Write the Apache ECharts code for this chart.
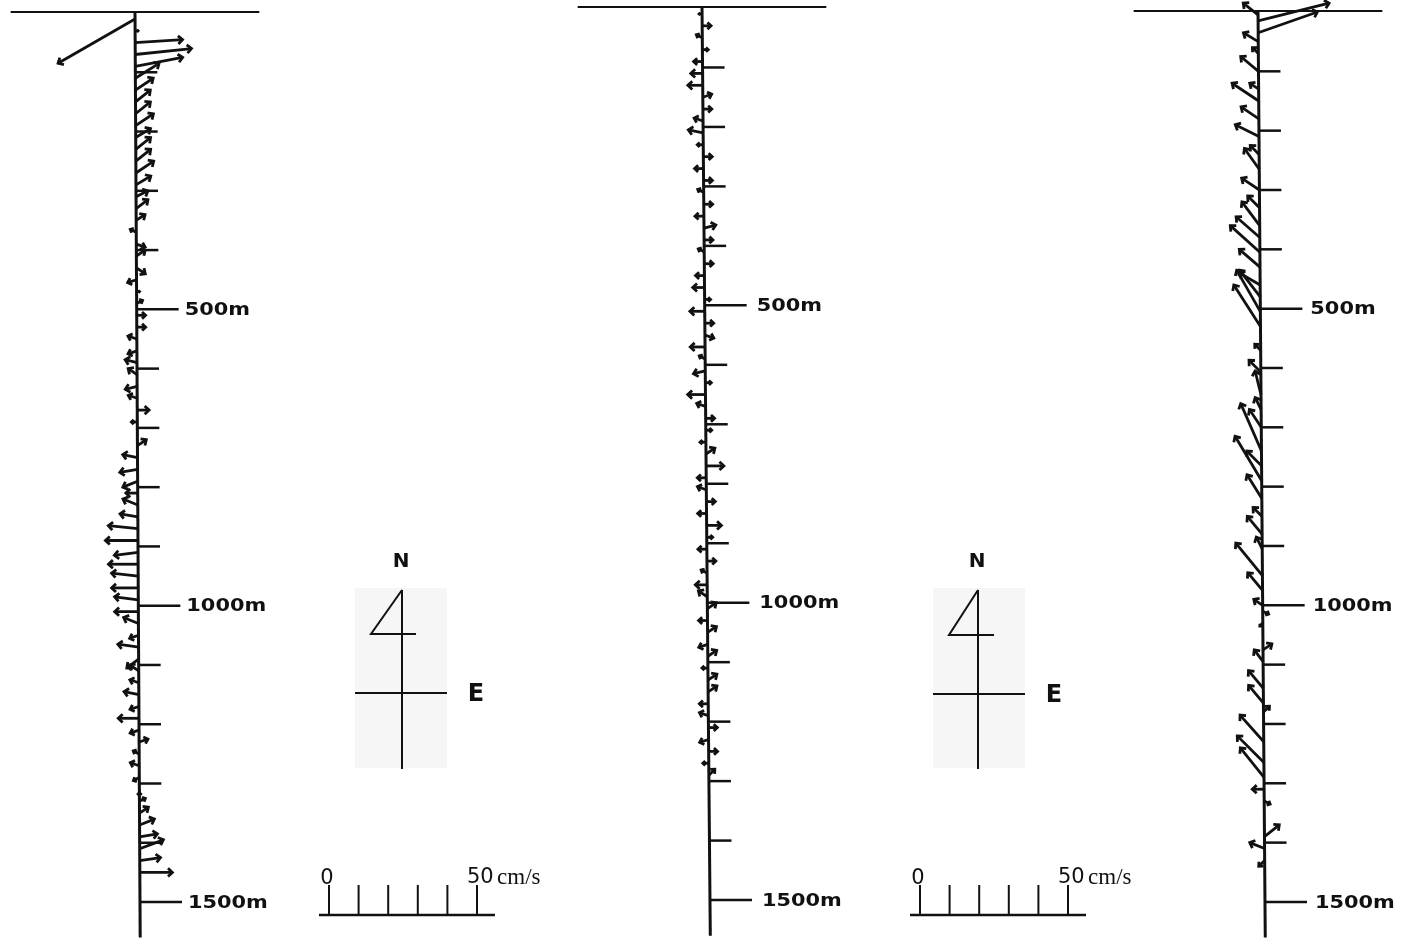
<!DOCTYPE html>
<html>
<head>
<meta charset="utf-8">
<script src="https://cdn.jsdelivr.net/npm/echarts@6/dist/echarts.min.js"></script>
<style>
  html, body { margin: 0; padding: 0; background: #fff; }
  #chart { width: 1405px; height: 945px; }
</style>
</head>
<body>
<div id="chart"></div>
<script>
// depth ticks (m) and labels
var tickDepths = [100, 200, 300, 400, 500, 600, 700, 800, 900, 1000, 1100, 1200, 1300, 1400, 1500];
var labelDepths = [500, 1000, 1500];
var depthLabels = ['500m', '1000m', '1500m'];
var scaleTicks = [0, 10, 20, 30, 40, 50];   // cm/s

// profile 1 : depth (m), east and north components (cm/s)
var p1Depth = [10, 30, 50, 70, 90, 110, 130, 150, 170, 190, 210, 230, 250, 270, 290, 310, 330, 350, 370, 390,
    410, 430, 450, 470, 490, 510, 530, 550, 570, 590, 610, 630, 650, 670, 690, 710, 730, 750, 770, 790,
    810, 830, 850, 870, 890, 910, 930, 950, 970, 990, 1010, 1030, 1050, 1070, 1090, 1110, 1130, 1150, 1170, 1190,
    1210, 1230, 1250, 1270, 1290, 1310, 1330, 1350, 1370, 1390, 1410, 1430, 1450];
var p1East = [-26, 1, 16, 19, 16, 8, 6, 5, 5, 6, 5, 5, 5, 6, 5, 4, 4, 3, -2, 3,
    3, 3, -3, 1, 2, 3, 3, -3, -3, -4, -3, -4, -3, 4, -2, 0, 3, -5, -6, -5,
    -4, -5, -6, -10, -11, -8, -10, -9, -9, -8, -8, -5, -3, -7, -4, -3, -3, -5, -3, -7,
    -3, 3, -2, -3, -2, 0, 2, 3, 5, 6, 8, 7, 11];
var p1North = [-15, 0, 1, 2, 3, 5, 4, 4, 4, 4, 3, 4, 4, 4, 3, 2, 3, 2, 1, -1,
    2, -2, -1, 0, 1, 0, 0, 1, -1, 1, 2, -1, 1, 0, 0, 0, 2, 1, -1, -2,
    0, 2, 1, 1, 0, -1, 0, 1, 0, 1, 0, 2, -1, 1, -3, 2, 1, 1, -1, 0,
    -1, 1, 1, 1, -1, -2, 1, 2, 2, 1, 3, 1, 0];

// profile 2
var p2Depth = [10, 30, 50, 70, 90, 110, 130, 150, 170, 190, 210, 230, 250, 270, 290, 310, 330, 350, 370, 390,
    410, 430, 450, 470, 490, 510, 530, 550, 570, 590, 610, 630, 650, 670, 690, 710, 730, 750, 770, 790,
    810, 830, 850, 870, 890, 910, 930, 950, 970, 990, 1010, 1030, 1050, 1070, 1090, 1110, 1130, 1150, 1170, 1190,
    1210, 1230, 1250, 1270, 1290];
var p2East = [-1, 3, -2, 2, -3, -4, -5, 3, 3, -3, -5, -2, 3, -3, 3, -2, 3, -3, 4, 3,
    -2, 3, -3, -4, 2, -5, 3, 3, -5, -2, -4, 2, -6, -3, 3, 2, -2, 3, 6, -3,
    -3, 3, -3, 5, 2, -3, 3, -2, -4, -3, 3, -3, 3, -3, 3, -2, 3, 3, -3, -3,
    3, -3, 3, -2, 2];
var p2North = [0, 0, 1, 0, 0, 0, 0, 1, 0, 1, 1, 0, 0, 0, 0, 1, 0, 0, 1, 0,
    1, 0, 0, 0, 0, 0, 0, -1, 0, 1, -1, 0, 0, 1, 0, 0, 0, 2, 0, 0,
    1, 0, 0, 0, 0, 0, 0, 1, 0, 2, 2, 0, 2, -1, 2, 0, 2, 2, 0, 1,
    0, -1, 0, 0, 2];

// profile 3
var p3Depth = [5, 15, 35, 50, 70, 100, 130, 150, 180, 210, 240, 265, 300, 330, 360, 380, 405, 430, 460, 480,
    505, 530, 570, 607, 645, 670, 700, 740, 765, 790, 820, 850, 880, 905, 950, 975, 1000, 1010, 1030, 1075,
    1095, 1140, 1165, 1180, 1230, 1265, 1290, 1310, 1330, 1390, 1410, 1430];
var p3East = [-5, 24, 20, -5, -2, -6, -3, -9, -6, -8, -3, -5, -6, -4, -6, -8, -10, -7, -7, -7,
    -8, -9, -2, -4, -2, -2, -4, -7, -5, -9, -5, -3, -5, -2, -9, -5, -3, 2, -1, 3,
    -3, -5, -5, 2, -8, -9, -8, -4, 2, 5, -5, -2];
var p3North = [4, 6, 7, 3, 2, 5, 2, 6, 4, 4, 3, 7, 4, 4, 8, 7, 9, 6, 4, 9,
    14, 14, 2, 4, 8, 4, 6, 16, 5, 15, 8, 3, 6, 4, 11, 6, 2, -1, -1, 2,
    4, 6, 6, 2, 9, 9, 10, 0, -1, 4, 2, -2];

var ink = '#111';
var pxPerCm = 2.96;     // 50 cm/s scale bar = 148 px
var maxDepth = 1560;
var halfSpan = 42;      // cm/s each side of the profile axis

var panels = [
    {axisX: 135, top: 13, pxPerM: 0.5927, tilt: 5, labelGap: 48, depth: p1Depth, east: p1East, north: p1North},
    {axisX: 702, top: 8, pxPerM: 0.5947, tilt: 8, labelGap: 52, depth: p2Depth, east: p2East, north: p2North},
    {axisX: 1258, top: 12, pxPerM: 0.5933, tilt: 7, labelGap: 50, depth: p3Depth, east: p3East, north: p3North}
];

function axisPoint(api, p, d) {
    var pt = api.coord([0, d]);
    pt[0] += p.tilt * d / 1500;
    return pt;
}

function frameItem(p) {
    return function (params, api) {
        var s0 = api.coord([-halfSpan, 0]);
        var s1 = api.coord([halfSpan, 0]);
        var a0 = axisPoint(api, p, 0);
        var a1 = axisPoint(api, p, maxDepth);
        return {
            type: 'group',
            children: [
                {type: 'line', shape: {x1: s0[0], y1: s0[1] - 1, x2: s1[0], y2: s1[1] - 1},
                    style: {stroke: ink, lineWidth: 2}},
                {type: 'line', shape: {x1: a0[0], y1: a0[1] - 2, x2: a1[0], y2: a1[1]},
                    style: {stroke: ink, lineWidth: 3}}
            ]
        };
    };
}

function tickItem(p) {
    return function (params, api) {
        var d = api.value(1);
        var pt = axisPoint(api, p, d);
        var idx = labelDepths.indexOf(d);
        var len = idx >= 0 ? 42 : 22;
        var children = [
            {type: 'line', shape: {x1: pt[0], y1: pt[1], x2: pt[0] + len, y2: pt[1]},
                style: {stroke: ink, lineWidth: 2.5}}
        ];
        if (idx >= 0) {
            children.push({
                type: 'text', x: pt[0] + p.labelGap, y: pt[1] + 1, scaleX: 1.16,
                style: {text: depthLabels[idx], fill: ink, fontSize: 18, fontWeight: 'bold',
                    fontFamily: 'DejaVu Sans', align: 'left', verticalAlign: 'middle'}
            });
        }
        return {type: 'group', children: children};
    };
}

function vectorItem(p) {
    return function (params, api) {
        var u = api.value(0), d = api.value(1), v = api.value(2);
        if (u === 0 && v === 0) return null;
        var base = axisPoint(api, p, d);
        var k = api.size([1, 0])[0];
        var dx = u * k, dy = -v * k;
        var tip = [base[0] + dx, base[1] + dy];
        var len = Math.sqrt(dx * dx + dy * dy);
        var ang = Math.atan2(dy, dx);
        var h = Math.min(6, len * 0.55);
        var a1 = ang + Math.PI - 0.75, a2 = ang + Math.PI + 0.75;
        var b1 = [tip[0] + h * Math.cos(a1), tip[1] + h * Math.sin(a1)];
        var b2 = [tip[0] + h * Math.cos(a2), tip[1] + h * Math.sin(a2)];
        return {
            type: 'group',
            children: [
                {type: 'line', shape: {x1: base[0], y1: base[1], x2: tip[0], y2: tip[1]},
                    style: {stroke: ink, lineWidth: 2.8}},
                {type: 'polyline', shape: {points: [b1, tip, b2]},
                    style: {stroke: ink, lineWidth: 2.8, fill: null}}
            ]
        };
    };
}

var grids = [], xAxes = [], yAxes = [], series = [];
panels.forEach(function (p, i) {
    grids.push({
        left: p.axisX - halfSpan * pxPerCm,
        top: p.top,
        width: 2 * halfSpan * pxPerCm,
        height: maxDepth * p.pxPerM
    });
    xAxes.push({type: 'value', gridIndex: i, min: -halfSpan, max: halfSpan, show: false});
    yAxes.push({type: 'value', gridIndex: i, min: 0, max: maxDepth, inverse: true, show: false});
    series.push({
        type: 'custom', xAxisIndex: i, yAxisIndex: i, silent: true,
        renderItem: frameItem(p), data: [[0, 0]]
    });
    series.push({
        type: 'custom', xAxisIndex: i, yAxisIndex: i, silent: true,
        renderItem: tickItem(p),
        data: tickDepths.map(function (d) { return [0, d]; })
    });
    series.push({
        type: 'custom', xAxisIndex: i, yAxisIndex: i, silent: true,
        renderItem: vectorItem(p),
        data: p.depth.map(function (d, j) { return [p.east[j], d, p.north[j]]; })
    });
});

// compass rose and velocity scale (drawn twice)
function compass(cx, tipY, crossY, barbX, barbY, boxX) {
    return [
        {type: 'rect', shape: {x: boxX, y: tipY - 2, width: 92, height: 180}, style: {fill: '#f6f6f6'}, z: -1},
        {type: 'line', shape: {x1: cx, y1: tipY, x2: cx, y2: tipY + 179}, style: {stroke: ink, lineWidth: 2}},
        {type: 'line', shape: {x1: boxX, y1: crossY, x2: boxX + 92, y2: crossY}, style: {stroke: ink, lineWidth: 2}},
        {type: 'polyline', shape: {points: [[cx, tipY], [barbX, barbY], [barbX + 45, barbY]]},
            style: {stroke: ink, lineWidth: 2, fill: null}},
        {type: 'text', x: cx - 1, y: tipY - 28, style: {text: 'N', fill: ink, fontSize: 20, fontWeight: 'bold',
            fontFamily: 'DejaVu Sans', align: 'center', verticalAlign: 'middle'}},
        {type: 'text', x: boxX + 121, y: crossY + 2, style: {text: 'E', fill: ink, fontSize: 24, fontWeight: 'bold',
            fontFamily: 'DejaVu Sans', align: 'center', verticalAlign: 'middle'}}
    ];
}

function scaleBar(x0, baseY) {
    var els = [
        {type: 'line', shape: {x1: x0 - 10, y1: baseY, x2: x0 + 50 * pxPerCm + 18, y2: baseY},
            style: {stroke: ink, lineWidth: 2.5}}
    ];
    scaleTicks.forEach(function (t) {
        var x = x0 + t * pxPerCm;
        els.push({type: 'line', shape: {x1: x, y1: baseY - 30, x2: x, y2: baseY},
            style: {stroke: ink, lineWidth: 2}});
    });
    els.push({type: 'text', x: x0 - 2, y: baseY - 36, style: {text: '0', fill: ink, fontSize: 21,
        fontFamily: 'DejaVu Sans', align: 'center', verticalAlign: 'middle'}});
    els.push({type: 'text', x: x0 + 50 * pxPerCm - 10, y: baseY - 37, style: {
        text: '{a|50} {b|cm/s}', align: 'left', verticalAlign: 'middle',
        rich: {a: {fontSize: 21, fontFamily: 'DejaVu Sans', fill: ink},
            b: {fontSize: 23, fontFamily: 'Liberation Serif', fill: ink}}
    }});
    return els;
}

var graphics = []
    .concat(compass(402, 590, 693, 371, 634, 355))
    .concat(compass(978, 590, 694, 949, 635, 933))
    .concat(scaleBar(329, 915))
    .concat(scaleBar(920, 915));

var chart = echarts.init(document.getElementById('chart'));
chart.setOption({
    backgroundColor: '#fff',
    animation: false,
    grid: grids,
    xAxis: xAxes,
    yAxis: yAxes,
    graphic: {elements: graphics},
    series: series
});
window.addEventListener('resize', function () { chart.resize(); });
</script>
</body>
</html>
